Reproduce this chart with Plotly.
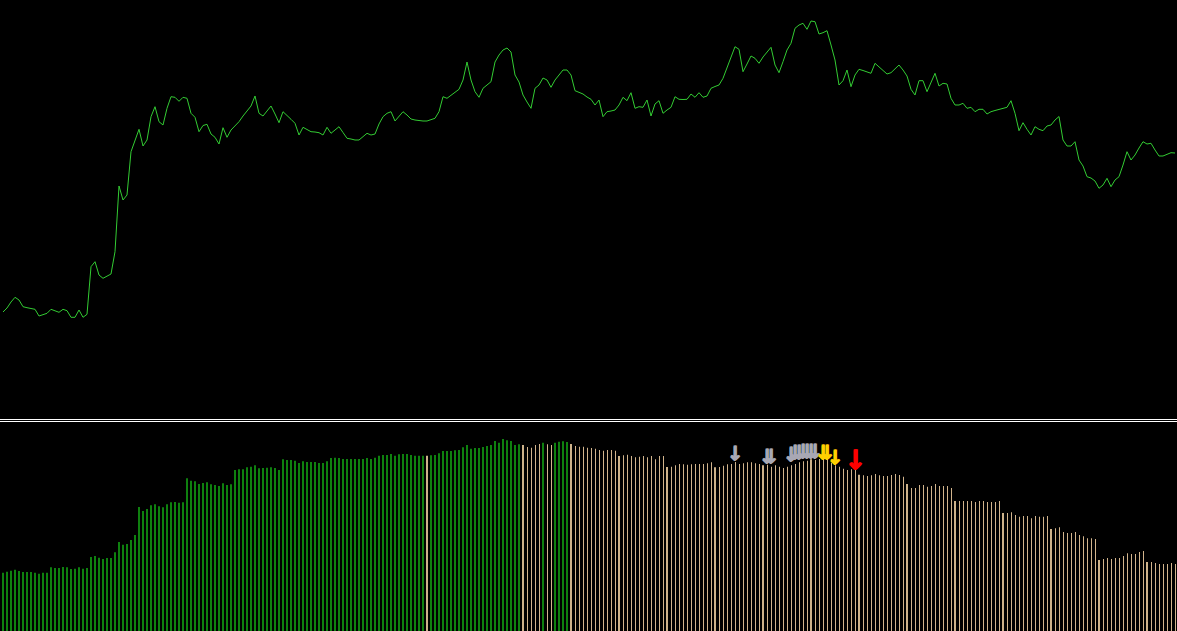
import plotly.graph_objects as go

# ---------------- data ----------------
# one value per bar index 0..293
line_vals = [
    106, 110, 116, 120.7, 118, 111.3, 110.3, 109.5, 108.7, 102, 103, 104.7, 108.7, 107, 105.7, 108.7,
    107.3, 100.7, 100.7, 108, 100.7, 103.7, 151.3, 156.3, 143, 139.7, 142, 144, 166.3, 232, 218, 223,
    266.3, 278.7, 288.7, 272, 278, 301.3, 311.3, 296.3, 293, 309.7, 321.3, 320.7, 316.7, 320.7, 319.7, 304.7,
    300.7, 286.3, 292.5, 293.7, 284, 280.7, 274, 290.3, 280.7, 288, 292, 296.3, 302, 307, 312, 322,
    304.7, 302, 307, 312, 304, 295.3, 306.3, 302, 298.7, 294.7, 283, 290.7, 288.5, 286.3, 286, 285.3,
    283, 290.7, 284.7, 288, 291.3, 285.5, 279.7, 279, 278, 278, 281, 284.7, 283, 284, 294, 301.3,
    304.7, 306.3, 297, 302, 306.3, 303, 299, 298, 297.3, 297, 297, 298, 299.7, 306.3, 321.3, 319.7,
    323, 326, 328.7, 338, 356, 338, 326.3, 320.7, 329.7, 333, 336.3, 356, 363, 368, 370, 366,
    343, 336, 323, 316, 309.7, 329.7, 333, 340, 338, 330.7, 338, 343, 348, 348, 343, 327.3,
    326, 324, 321, 318.7, 313, 318, 301.3, 306.3, 307, 308, 313, 320.7, 317.3, 325.3, 309.7, 311.3,
    310.7, 318, 302, 314, 317.3, 304.7, 308, 310.7, 321.3, 318.7, 318.5, 318.7, 324, 320.7, 325.3, 320.7,
    322, 329.7, 331.5, 333, 339.7, 349.7, 359.7, 371.3, 368.7, 346.3, 354, 362, 359.7, 354.7, 361, 366.3,
    370.7, 353, 345.3, 356.3, 368, 374.7, 389.7, 393, 394.7, 388.7, 397, 396.3, 384, 385.3, 387.3, 373,
    358, 333, 337.3, 348, 331.3, 343, 348.7, 347.5, 346, 344.7, 354.7, 351, 348, 344, 345.3, 349.7,
    353, 348, 342, 328.7, 323, 337.3, 337.3, 326.3, 336.3, 344.7, 332, 334.7, 334, 319.7, 313, 313,
    314.7, 309.7, 310.7, 306.3, 308.7, 308.7, 304, 306.3, 307.5, 308.7, 309.7, 310.7, 317.3, 304.7, 287.3, 295.3,
    288.7, 283, 291.3, 288.7, 287.3, 292, 293, 298, 301.5, 278, 272, 272, 276.3, 258, 252, 241.3,
    240, 237, 229.7, 233, 239.7, 231.3, 238, 241.3, 253, 266.3, 258, 263, 270, 276.3, 274, 274.7,
    268, 262, 262, 264, 265.3, 265,
]

bar_vals = [
    58.3, 59.3, 60.3, 61.3, 60, 59, 59, 59, 58.3, 57.3, 58.3, 58.3, 63.7, 63, 63, 64,
    63.7, 62, 62.3, 63.7, 62.3, 63, 74, 75, 73.3, 72, 73, 73, 78.7, 89, 86.3, 87,
    91, 96, 124, 120, 122, 125.7, 126.7, 124.7, 123.7, 126.7, 128.7, 129, 128.3, 128.7, 152.7, 150.3,
    149.7, 147, 148, 148.7, 146.7, 146, 145, 147.7, 146, 146.7, 161, 161.7, 161.7, 163.7, 164.3, 165.7,
    162.7, 163, 163.3, 163.7, 163, 161, 171.7, 171, 171, 170.3, 168, 169.7, 169, 169, 169, 168,
    168, 169.7, 173, 173.3, 173, 172, 172, 172, 172, 172, 172, 173, 172, 173.3, 175.3, 176,
    176, 177, 175.3, 176.7, 177, 177, 176, 175.3, 175.3, 175.3, 175.3, 175.7, 176, 177.7, 180, 180,
    180, 180.7, 181, 183.7, 186, 182.3, 183, 183, 184, 185, 186, 190, 188.3, 192, 190.7, 190,
    186, 186.7, 186, 184, 183.3, 186, 187, 188.3, 186.7, 186, 188.3, 189.3, 189.7, 189, 187, 185,
    184.3, 184.3, 183.3, 183, 182.3, 181, 180.3, 181, 181, 180.3, 175, 175.7, 176.3, 175, 173.7, 174.3,
    175, 173.7, 175, 171.7, 175, 175, 164, 164.3, 165.7, 167, 166.7, 166.3, 166.7, 167, 167, 167,
    167.7, 168.7, 163.7, 164, 165.3, 166.7, 167, 169, 167, 167.7, 168.7, 168.7, 167.7, 167, 165.7, 166.3,
    164.3, 165.7, 164.3, 163, 164.3, 165.7, 167, 168.7, 169.7, 170.3, 171.7, 171, 172, 173.7, 172, 168.3,
    165.7, 164.3, 162.3, 161, 161.7, 163, 156.3, 155.7, 155, 155.7, 157, 155.7, 155, 155, 156, 157,
    156, 154.3, 147, 143, 143, 146, 146, 144.3, 145, 147, 145, 145, 145, 143, 130, 130,
    130, 130, 130, 129, 130, 130, 129, 129, 129, 130, 118, 118, 118.7, 116, 114.3, 115,
    115, 112.7, 115, 114.3, 114.3, 115, 102, 102.7, 103.7, 99, 98, 98, 99, 96, 94.7, 92.7,
    92.7, 92, 71, 72, 73, 72, 73, 73, 75, 77.7, 77, 77, 79, 80, 69, 69,
    68, 67, 67, 67, 68, 67,
]

# bars drawn in green (the rest are tan)
green_idx = list(range(0, 106)) + list(range(107, 130)) + [135, 138, 139, 140, 141]
period_len = 12
period_first = 10

# arrow signals: bar index, level of the arrow tip, kind
arrow_idx = [183, 191, 192, 197, 198, 199, 200, 201, 202, 203, 205, 206, 208, 213]
arrow_tip = [168, 165, 165, 167, 169, 169.5, 170, 170, 170.5, 170.5, 169.5, 169.5, 164.5, 158]
arrow_kind = ["g", "g", "g", "g", "g", "g", "g", "g", "g", "g", "y", "y", "y", "r"]

# ---------------- styles ----------------
BG = "#000000"
LINE_C = "#33cc33"
GREEN = "#0f800f"
TAN_THICK = "#cdb28a"
TAN_THIN = "#d2b48c"
ARROW_COL = {"g": "#a8a8b4", "y": "#ffd000", "r": "#ff0000"}
ARROW_SIZE = {"g": 20, "y": 20, "r": 27}

n = len(bar_vals)
idx = list(range(n))

fig = go.Figure()

fig.add_trace(go.Scatter(x=idx, y=line_vals, mode="lines",
                         line=dict(color=LINE_C, width=1),
                         xaxis="x", yaxis="y", hoverinfo="skip"))

gset = set(green_idx)
g_x = [i for i in idx if i in gset]
thick_x = [i for i in idx if i not in gset and i % period_len == period_first]
thin_x = [i for i in idx if i not in gset and i % period_len != period_first]

def add_bars(xs, color, width, offset):
    fig.add_trace(go.Bar(x=xs, y=[bar_vals[i] for i in xs], width=width, offset=offset,
                         marker=dict(color=color, line=dict(width=0)),
                         xaxis="x2", yaxis="y2", hoverinfo="skip"))

add_bars(g_x, GREEN, 0.5, -0.25)
add_bars(thick_x, TAN_THICK, 0.5, -0.25)
add_bars(thin_x, TAN_THIN, 0.25, 0)

for kind in ["g", "y", "r"]:
    sz = ARROW_SIZE[kind]
    col = ARROW_COL[kind]
    xs = [arrow_idx[k] for k in range(len(arrow_idx)) if arrow_kind[k] == kind]
    # text box sits a little below the glyph tip: compensate (1 unit = 1 px here)
    ys = [arrow_tip[k] - 0.1 * sz for k in range(len(arrow_idx)) if arrow_kind[k] == kind]
    fig.add_trace(go.Scatter(x=xs, y=ys, mode="text", text=["↓"] * len(xs),
                             textposition="top center",
                             textfont=dict(family="DejaVu Sans", size=sz, color=col,
                                           weight="bold",
                                           shadow=f"1px 0px 0px {col}, 0px 1px 0px {col}"),
                             xaxis="x2", yaxis="y2", hoverinfo="skip"))

W, H = 1177, 631
top_px, bot_px = 418, 422
xr = [-0.75, n - 0.5]
fig.update_layout(
    width=W, height=H, margin=dict(l=0, r=0, t=0, b=0),
    paper_bgcolor=BG, plot_bgcolor=BG, showlegend=False, barmode="overlay",
    xaxis=dict(domain=[0, 1], range=xr, visible=False, anchor="y"),
    yaxis=dict(domain=[1 - top_px / H, 1], range=[0, top_px], visible=False),
    xaxis2=dict(domain=[0, 1], range=xr, visible=False, anchor="y2"),
    yaxis2=dict(domain=[0, (H - bot_px) / H], range=[0, H - bot_px], visible=False),
    shapes=[
        dict(type="line", xref="paper", yref="paper", x0=0, x1=1,
             y0=(H - 419.5) / H, y1=(H - 419.5) / H, line=dict(color="#ffffff", width=1)),
        dict(type="line", xref="paper", yref="paper", x0=0, x1=1,
             y0=(H - 421.5) / H, y1=(H - 421.5) / H, line=dict(color="#ffffff", width=1)),
    ],
)

fig.write_html("out.html", config={"displayModeBar": False},
               post_script="document.body.style.margin='0';document.body.style.background='#000';")
